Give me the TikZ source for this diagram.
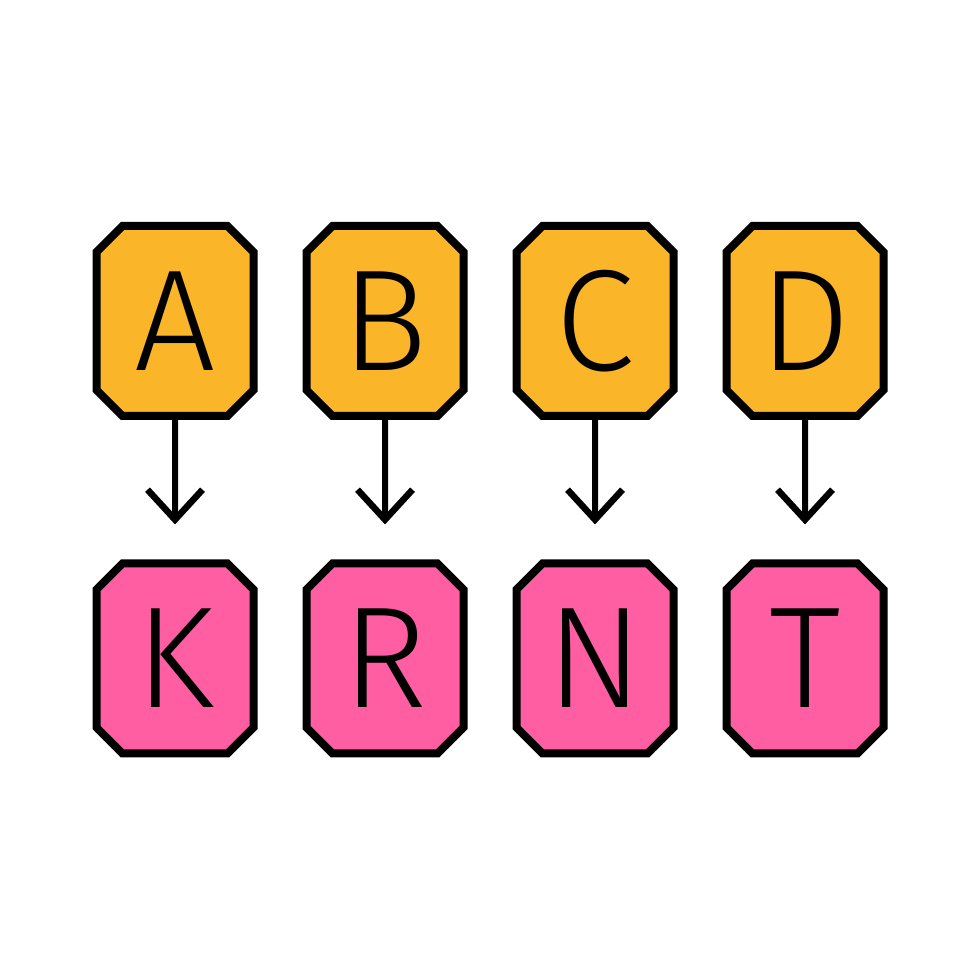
\documentclass[tikz,border=0pt]{standalone}
\usepackage{fontspec}
\setmainfont{Fira Sans Light}
\usepackage{xcolor}
\usepackage{tikz}
\usetikzlibrary{shapes.misc,arrows.meta}
\definecolor{boxorange}{RGB}{251,181,40}
\definecolor{boxpink}{RGB}{255,95,162}
\tikzset{box/.style={chamfered rectangle,chamfered rectangle xsep=0.26cm,chamfered rectangle ysep=0.26cm,draw,line width=0.16cm,minimum width=3.14cm,minimum height=3.8cm,inner sep=0pt,font=\fontsize{82}{82}\selectfont}}
\tikzset{src/.style={box,fill=boxorange}}
\tikzset{dst/.style={box,fill=boxpink}}
\tikzset{arr/.style={line width=0.12cm,-{Straight Barb[length=0.6cm,width=1.1cm,line width=0.13cm]},shorten >=0.7cm}}

\begin{document}
\begin{tikzpicture}
    \useasboundingbox (0,0) rectangle (19.6,19.6);
    \node[src] (a) at (3.5,13.18) {A};
    \node[src] (b) at (7.7,13.18) {B};
    \node[src] (c) at (11.9,13.18) {C};
    \node[src] (d) at (16.1,13.18) {D};

    \node[dst] (k) at (3.5,6.43) {K};
    \node[dst] (r) at (7.7,6.43) {R};
    \node[dst] (n) at (11.9,6.43) {N};
    \node[dst] (t) at (16.1,6.43) {T};

    \draw [arr] (a) -- (k);
    \draw [arr] (b) -- (r);
    \draw [arr] (c) -- (n);
    \draw [arr] (d) -- (t);
\end{tikzpicture}
\end{document}
